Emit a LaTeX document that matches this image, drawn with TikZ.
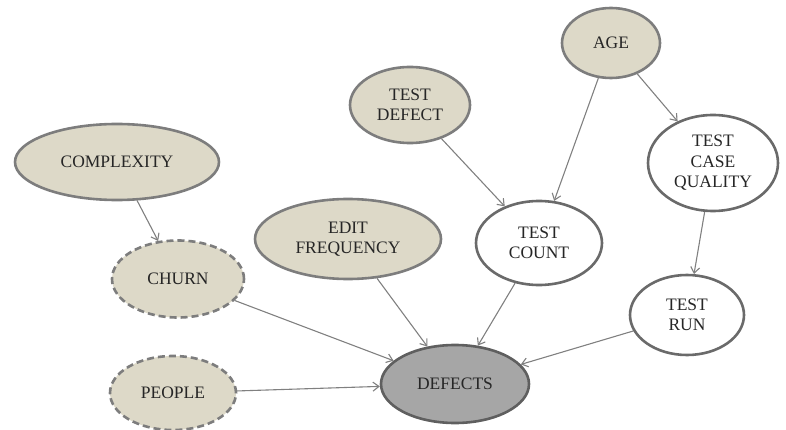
\documentclass[tikz,border=0pt]{standalone}
\usepackage{fontspec}
\setmainfont{Liberation Serif}
\usetikzlibrary{shapes.geometric,arrows.meta}
\definecolor{beige}{RGB}{221,217,200}
\definecolor{bord}{RGB}{125,125,125}
\definecolor{edgec}{RGB}{128,128,128}
\definecolor{defill}{RGB}{166,166,166}
\definecolor{debord}{RGB}{95,95,95}
\begin{document}
\begin{tikzpicture}[x=1pt,y=-1pt,
  base/.style={ellipse,inner sep=0pt,line width=2.6pt,align=center,
    font=\fontsize{17.5}{20.5}\selectfont,text=black!85},
  obs/.style={base,draw=bord,fill=beige},
  lat/.style={base,draw=bord,fill=beige,dashed,dash pattern=on 7pt off 4pt},
  wht/.style={base,draw=bord!85!black,fill=white},
  tgt/.style={base,draw=debord,fill=defill},
  conn/.style={draw=edgec,line width=1.1pt,-{Straight Barb[length=6pt,width=9pt]}}]
\useasboundingbox (0,0) rectangle (786,430);
\node[obs,minimum width=204pt,minimum height=76pt] (cx) at (117,162) {COMPLEXITY};
\node[lat,minimum width=132pt,minimum height=77pt] (ch) at (178,279) {CHURN};
\node[lat,minimum width=126pt,minimum height=74pt] (pe) at (173,393) {PEOPLE};
\node[obs,minimum width=186pt,minimum height=80pt] (ef) at (348,239) {EDIT\\FREQUENCY};
\node[obs,minimum width=120pt,minimum height=76pt] (td) at (410,105) {TEST\\DEFECT};
\node[obs,minimum width=98pt,minimum height=70pt] (ag) at (611,43) {AGE};
\node[wht,minimum width=130pt,minimum height=96pt] (tq) at (713,163) {TEST\\CASE\\QUALITY};
\node[wht,minimum width=126pt,minimum height=84pt] (tc) at (539,243) {TEST\\COUNT};
\node[wht,minimum width=114pt,minimum height=80pt] (tr) at (687,315) {TEST\\RUN};
\node[tgt,minimum width=148pt,minimum height=78pt] (de) at (455,384) {DEFECTS};
\draw[conn] (cx) -- (ch);
\draw[conn] (ch) -- (de);
\draw[conn] (pe) -- (de);
\draw[conn] (ef) -- (de);
\draw[conn] (tc) -- (de);
\draw[conn] (tr) -- (de);
\draw[conn] (td) -- (tc);
\draw[conn] (ag) -- (tc);
\draw[conn] (ag) -- (tq);
\draw[conn] (tq) -- (tr);
\end{tikzpicture}
\end{document}
